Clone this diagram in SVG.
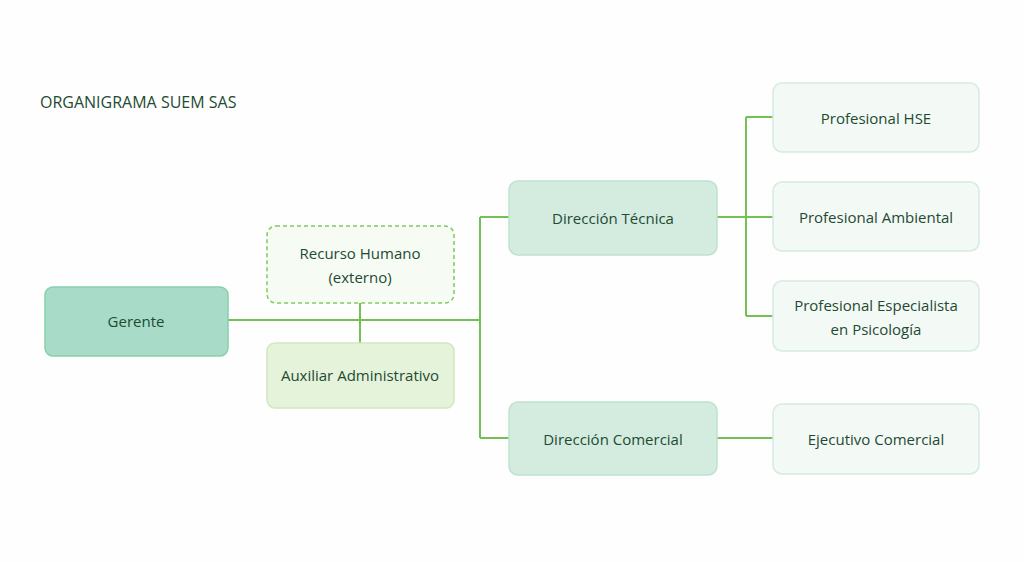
<svg xmlns="http://www.w3.org/2000/svg" width="1024" height="562" viewBox="0 0 1024 562">
<style>
text{font-family:"Open Sans","Noto Sans","Liberation Sans",sans-serif;font-size:15px;fill:#1f4a33;text-anchor:middle}
.c{stroke:#72c152;stroke-width:2;fill:none}
.leaf{fill:#f3f9f4;stroke:#d6ecde;stroke-width:1.5}
.dir{fill:#d3ecdf;stroke:#bfe2cf;stroke-width:1.5}
</style>
<rect width="1024" height="562" fill="#fdfefd"/>
<text x="40" y="108" style="text-anchor:start;font-size:16px">ORGANIGRAMA SUEM SAS</text>
<g id="connectors">
<path class="c" d="M228 320H480M360 303V343M480 217V438M480 217H509M480 438H509M717 217H773M746 117V316M746 117H773M746 316H773M717 438H773"/>
</g>
<g id="gerente"><rect x="45" y="287" width="183" height="69" rx="8" fill="#a8dcc8" stroke="#86cfae" stroke-width="1.5"/><text x="136" y="327">Gerente</text></g>
<g id="rh"><rect x="267" y="226" width="187" height="77" rx="9" fill="#f6fbf4" stroke="#7fcc5e" stroke-width="1.5" stroke-dasharray="4 3"/><text x="360" y="259">Recurso Humano</text><text x="360" y="283">(externo)</text></g>
<g id="aux"><rect x="267" y="343" width="187" height="65" rx="8" fill="#e4f3da" stroke="#cfe8bf" stroke-width="1.5"/><text x="360" y="381">Auxiliar Administrativo</text></g>
<g id="dt"><rect class="dir" x="509" y="181" width="208" height="74" rx="9"/><text x="613" y="224">Dirección Técnica</text></g>
<g id="dc"><rect class="dir" x="509" y="402" width="208" height="73" rx="9"/><text x="613" y="445">Dirección Comercial</text></g>
<g id="hse"><rect class="leaf" x="773" y="83" width="206" height="69" rx="9"/><text x="876" y="124">Profesional HSE</text></g>
<g id="amb"><rect class="leaf" x="773" y="182" width="206" height="69" rx="9"/><text x="876" y="223">Profesional Ambiental</text></g>
<g id="psi"><rect class="leaf" x="773" y="281" width="206" height="70" rx="9"/><text x="876" y="311">Profesional Especialista</text><text x="876" y="335">en  Psicología</text></g>
<g id="eje"><rect class="leaf" x="773" y="404" width="206" height="70" rx="9"/><text x="876" y="445">Ejecutivo Comercial</text></g>
</svg>
